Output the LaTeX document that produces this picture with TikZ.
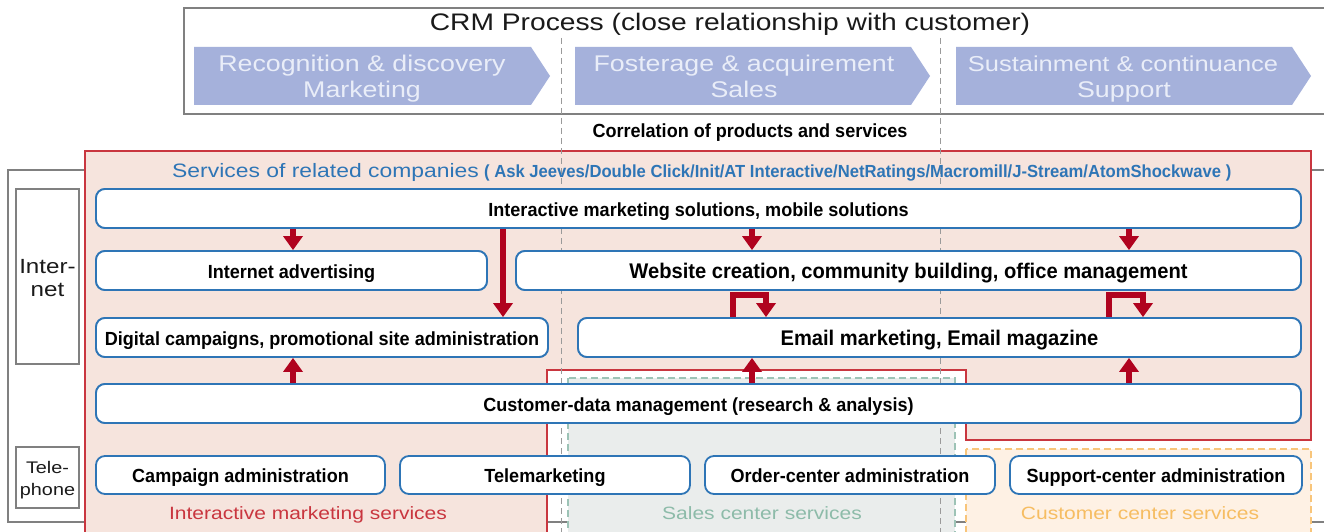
\documentclass[tikz,border=0pt]{standalone}
\usepackage{fontspec}
\setmainfont{Liberation Sans}
\newfontfamily\lightf[FakeStretch=1.18]{Liberation Sans}
\newfontfamily\boldf[FakeStretch=0.95]{Liberation Sans}
\usetikzlibrary{arrows.meta}
\definecolor{chevfill}{HTML}{A5B1DB}
\definecolor{chevtext}{HTML}{E9EDF8}
\definecolor{pinkfill}{HTML}{F6E4DD}
\definecolor{regred}{HTML}{C9363F}
\definecolor{nodeblue}{HTML}{2E75B6}
\definecolor{arrred}{HTML}{B0031F}
\definecolor{framegray}{HTML}{808080}
\definecolor{dashgray}{HTML}{9A9A9A}
\definecolor{salesfill}{HTML}{EAEDEC}
\definecolor{salesline}{HTML}{9DC3B6}
\definecolor{salestext}{HTML}{8DBBA9}
\definecolor{custfill}{HTML}{FEF1E4}
\definecolor{custline}{HTML}{F8C57A}
\definecolor{custtext}{HTML}{F6BD62}
\definecolor{lighttext}{HTML}{1A1A1A}
\begin{document}
\begin{tikzpicture}[x=1pt,y=-1pt,
  box/.style={draw=nodeblue, line width=1.8pt, rounded corners=9pt, fill=white,
    minimum height=39pt, inner sep=0pt, text=black, text height=18pt, text depth=3pt,
    font=\boldf\bfseries\fontsize{19}{22}\selectfont},
  bigbox/.style={box, text height=20pt, text depth=3.4pt,
    font=\boldf\bfseries\fontsize{21.2}{24}\selectfont},
  sidebox/.style={draw=framegray, line width=1.5pt, fill=white, inner sep=0pt,
    minimum width=63pt},
  sidelabel/.style={align=center, inner sep=0pt, text=lighttext},
  redarr/.style={draw=arrred, line width=6pt, line join=miter,
    -{Triangle[length=14pt,width=19pt]}},
  vdash/.style={draw=dashgray, line width=1pt, dash pattern=on 6pt off 4pt},
  chevron/.style={fill=chevfill, draw=none},
  chevlabel/.style={text=chevtext, anchor=base, inner sep=0pt,
    font=\lightf\fontsize{22.7}{26}\selectfont},
  reglabel/.style={anchor=base, inner sep=0pt, font=\lightf\fontsize{17.8}{21}\selectfont}
]
\useasboundingbox (0,0) rectangle (1324,532);
\clip (0,0) rectangle (1324,532);
\fill[white] (0,0) rectangle (1324,532);

% CRM process box
\draw[draw=framegray, line width=1.5pt, fill=white] (184,8) rectangle (1345,114);
\node[anchor=base, inner sep=0pt, text=lighttext, font=\lightf\fontsize{23.9}{28}\selectfont] (crm) at (730,31)
  {CRM Process (close relationship with customer)};
\fill[chevron] (194,47) -- (531,47) -- (550,76) -- (531,105) -- (194,105) -- cycle;
\fill[chevron] (575,47) -- (911,47) -- (930,76) -- (911,105) -- (575,105) -- cycle;
\fill[chevron] (956,47) -- (1292,47) -- (1311,76) -- (1292,105) -- (956,105) -- cycle;
\node[chevlabel] (c1a) at (362,72) {Recognition \& discovery};
\node[chevlabel] (c1b) at (362,98) {Marketing};
\node[chevlabel] (c2a) at (744,72) {Fosterage \& acquirement};
\node[chevlabel] (c2b) at (744,98) {Sales};
\node[chevlabel, font=\lightf\fontsize{21.6}{26}\selectfont] (c3a) at (1123,72) {Sustainment \& continuance};
\node[chevlabel] (c3b) at (1124,98) {Support};

\node[anchor=base, inner sep=0pt, font=\boldf\bfseries\fontsize{19}{22}\selectfont] (corr) at (750,138)
  {Correlation of products and services};

% outer gray frame
\draw[draw=framegray, line width=1.5pt, fill=white] (8,170) rectangle (1345,522);

% pink region
\draw[draw=regred, line width=2pt, fill=pinkfill]
  (85,151) -- (1311,151) -- (1311,440) -- (966,440) -- (966,370) -- (547,370)
  -- (547,545) -- (85,545) -- cycle;
% sales center region
\draw[draw=salesline, line width=1.5pt, dash pattern=on 7pt off 4pt, fill=salesfill]
  (568,378) rectangle (955,545);
% customer center region
\draw[draw=custline, line width=1.5pt, dash pattern=on 7pt off 4pt, fill=custfill]
  (966,449) rectangle (1311,545);

% dashed phase separators
\coordinate (s1t) at (561,38); \coordinate (s1b) at (561,532);
\coordinate (s2t) at (940,38); \coordinate (s2b) at (940,532);
\draw[vdash] (s1t) -- (s1b);
\draw[vdash] (s2t) -- (s2b);

% side boxes
\node[sidebox, minimum height=175pt] (inet) at (47.5,276.5) {};
\node[sidelabel, font=\lightf\fontsize{20.5}{23}\selectfont] (inetl) at (47.5,278.5) {Inter-\\net};
\node[sidebox, minimum height=61pt] (tel) at (47.5,477.5) {};
\node[sidelabel, font=\lightf\fontsize{16.8}{22}\selectfont] (tell) at (47.5,480.5) {Tele-\\phone};

% related companies heading
\node[anchor=base west, inner sep=0pt, text=nodeblue, font=\lightf\fontsize{19.4}{23}\selectfont] (rel) at (172,177)
  {Services of related companies};
\node[anchor=base west, inner sep=0pt, text=nodeblue, font=\boldf\bfseries\fontsize{17.5}{20}\selectfont] (rellist) at (484,177)
  {( Ask Jeeves/Double Click/Init/AT Interactive/NetRatings/Macromill/J-Stream/AtomShockwave )};

% arrow x positions
\coordinate (xa) at (293,0);
\coordinate (xb) at (503,0);
\coordinate (xc) at (752,0);
\coordinate (xd) at (1129,0);
\coordinate (hk1s) at (733,0);
\coordinate (hk1) at (766,295);
\coordinate (hk2s) at (1109,0);
\coordinate (hk2) at (1143,295);

% node outlines used as arrow anchors
\path
  (698.5,208.5) node[box, minimum width=1205pt] (n1) {Interactive marketing solutions, mobile solutions}
  (291.5,270.5) node[box, minimum width=391pt] (n2) {Internet advertising}
  (908.5,270.5) node[bigbox, minimum width=785pt] (n3) {Website creation, community building, office management}
  (322,337.5) node[box, minimum width=452pt] (n4) {Digital campaigns, promotional site administration}
  (939.5,337.5) node[bigbox, minimum width=723pt] (n5) {Email marketing, Email magazine}
  (698.5,403.5) node[box, minimum width=1205pt] (n6) {Customer-data management (research \& analysis)};

% arrows
\draw[redarr] (n1.south -| xa) -- (n2.north -| xa);
\draw[redarr] (n1.south -| xb) -- (n4.north -| xb);
\draw[redarr] (n1.south -| xc) -- (n3.north -| xc);
\draw[redarr] (n1.south -| xd) -- (n3.north -| xd);
\draw[redarr] (n6.north -| xa) -- (n4.south -| xa);
\draw[redarr] (n6.north -| xc) -- (n5.south -| xc);
\draw[redarr] (n6.north -| xd) -- (n5.south -| xd);
\draw[redarr] (n5.north -| hk1s) |- (hk1) -- (n5.north -| hk1);
\draw[redarr] (n5.north -| hk2s) |- (hk2) -- (n5.north -| hk2);

% nodes again, on top of the arrow starts
\path
  (n1.center) node[box, minimum width=1205pt] (n1b) {Interactive marketing solutions, mobile solutions}
  (n2.center) node[box, minimum width=391pt] (n2b) {Internet advertising}
  (n3.center) node[bigbox, minimum width=785pt] (n3b) {Website creation, community building, office management}
  (n4.center) node[box, minimum width=452pt] (n4b) {Digital campaigns, promotional site administration}
  (n5.center) node[bigbox, minimum width=723pt] (n5b) {Email marketing, Email magazine}
  (n6.center) node[box, minimum width=1205pt] (n6b) {Customer-data management (research \& analysis)};

% telephone row
\node[box, minimum width=289pt, minimum height=38pt] (n7) at (240.5,475) {Campaign administration};
\node[box, minimum width=290pt, minimum height=38pt] (n8) at (545,475) {Telemarketing};
\node[box, minimum width=290pt, minimum height=38pt] (n9) at (850,475) {Order-center administration};
\node[box, minimum width=292pt, minimum height=38pt] (n10) at (1156,475) {Support-center administration};

% region labels
\node[reglabel, text=regred] (lim) at (308,519) {Interactive marketing services};
\node[reglabel, text=salestext] (lsc) at (762,519) {Sales center services};
\node[reglabel, text=custtext] (lcc) at (1140,519) {Customer center services};
\end{tikzpicture}
\end{document}
